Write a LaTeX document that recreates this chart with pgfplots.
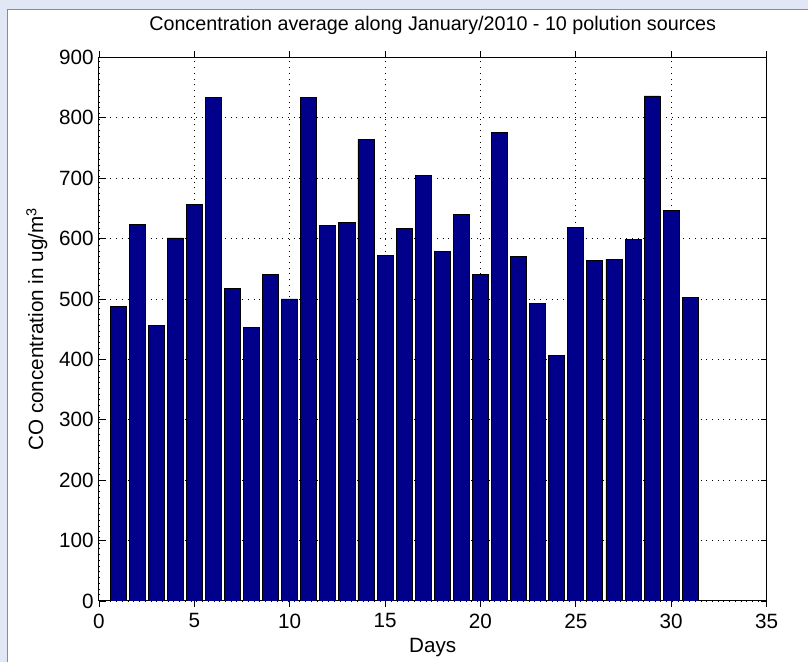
\documentclass[border=0pt]{standalone}
\usepackage{pgfplots}
\pgfplotsset{compat=1.18}
\usepackage{fontspec}
\setmainfont{Liberation Sans}
\definecolor{barblue}{RGB}{0,0,138}
\definecolor{wm}{RGB}{226,231,246}

\pgfplotstableread{
day value
1 487
2 624
3 456
4 601
5 656
6 833
7 518
8 453
9 540
10 500
11 833
12 622
13 627
14 764
15 572
16 616
17 704
18 579
19 640
20 540
21 775
22 570
23 493
24 406
25 619
26 564
27 566
28 598
29 836
30 646
31 503
}\cotable

\begin{document}
\begin{tikzpicture}[x=0.75pt,y=0.75pt]
% page frame in pixels of the reference
\fill[wm] (0,0) rectangle (808,662);
\fill[white] (8,0) rectangle (808,652);
\draw[black!45, line width=0.75pt] (8,0) -- (8,652) -- (808,652);
\useasboundingbox (0,0) rectangle (808,662);
\begin{axis}[
  at={(74.25pt,45.5pt)}, anchor=south west,
  scale only axis,
  width=501pt, height=408pt,
  xmin=0, xmax=35, ymin=0, ymax=900,
  xtick={0,5,...,35}, ytick={0,100,...,900},
  tick align=inside,
  major tick length=4.5pt,
  tick style={black, line width=0.6pt},
  axis line style={black, line width=0.8pt},
  grid=major,
  major grid style={black, line width=0.6pt, dash pattern=on 0.7pt off 3.6pt},
  /pgf/number format/assume math mode=true,
  ticklabel style={font=\fontsize{15.5}{17}\selectfont},
  yticklabel style={xshift=-0.5pt},
  xticklabel style={yshift=-1.5pt},
  title={Concentration average along January/2010 - 10 polution sources},
  title style={at={(axis description cs:0.5,1)}, anchor=center, yshift=18pt,
    font=\fontsize{14.8}{17}\selectfont},
  xlabel={Days},
  xlabel style={at={(axis description cs:0.5,0)}, anchor=center, yshift=-35pt,
    font=\fontsize{15.5}{17}\selectfont},
  ylabel={CO concentration in ug/m\textsuperscript{3}},
  ylabel style={at={(axis description cs:-0.093,0.5)}, anchor=center,
    font=\fontsize{15.5}{17}\selectfont},
  ybar, bar width=0.84, bar shift=0pt,
]
\addplot[fill=barblue, draw=black, line width=0.6pt] table[x=day, y=value] {\cotable};
\end{axis}
\end{tikzpicture}
\end{document}
